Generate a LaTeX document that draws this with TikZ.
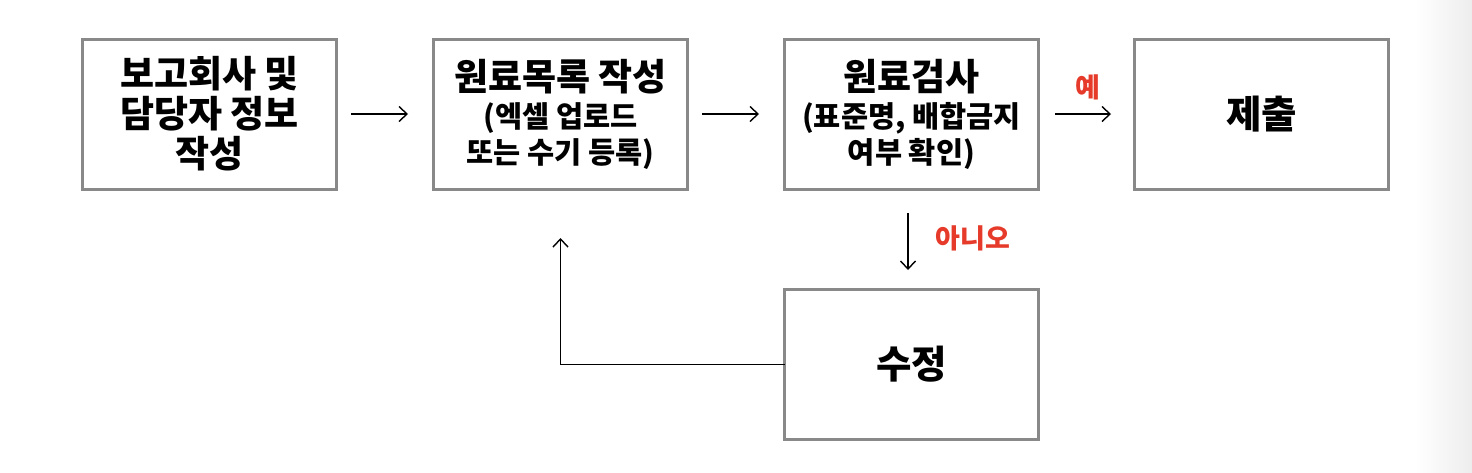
\documentclass[tikz,border=0pt]{standalone}
\usepackage{fontspec}
\setmainfont{Noto Sans CJK KR}
\usetikzlibrary{arrows.meta}
\definecolor{boxgray}{HTML}{898989}
\definecolor{labred}{HTML}{E63B2B}
\begin{document}
\begin{tikzpicture}[x=1pt,y=-1pt,
  stepbox/.style={draw=boxgray,line width=3pt,rectangle,outer sep=0pt,inner sep=0pt,
    minimum width=254pt,minimum height=150pt,align=center},
  bigtxt/.style={font=\bfseries\fontsize{37}{40}\selectfont},
  subtxt/.style={font=\bfseries\fontsize{29.5}{36}\selectfont},
  arr/.style={line width=1.4pt,-{Straight Barb[length=8pt,width=15pt,line width=1.4pt]}},
  lab/.style={text=labred,font=\bfseries\fontsize{27}{30}\selectfont,inner sep=0pt}]
\useasboundingbox (0,0) rectangle (1472,472);
\fill[white] (0,0) rectangle (1472,472);
\shade[left color=white,right color=black!7] (1415,0) rectangle (1472,472);
\node[stepbox,bigtxt] (b1) at (209.5,114) {보고회사 및\\ 담당자 정보\\ 작성};
\node[stepbox,subtxt] (b2) at (560.5,114) {{\fontsize{37}{40}\selectfont 원료목록 작성}\\[1pt] (엑셀 업로드\\ 또는 수기 등록)};
\node[stepbox,subtxt] (b3) at (911.5,114) {{\fontsize{37}{40}\selectfont 원료검사}\\[1pt] (표준명, 배합금지\\ 여부 확인)};
\node[stepbox,font=\bfseries\fontsize{38.5}{40}\selectfont] (b4) at (1261.5,114) {제출};
\node[stepbox,font=\bfseries\fontsize{38.5}{40}\selectfont] (b5) at (911.5,364.5) {수정};
\node[lab] (yes) at (1088,87) {예};
\node[lab] (no) at (973,238) {아니오};
\draw[arr] ([xshift=14.5pt]b1.east) -- ([xshift=-25.5pt]b2.west);
\draw[arr] ([xshift=14.5pt]b2.east) -- ([xshift=-25.5pt]b3.west);
\draw[arr] ([xshift=16.5pt]b3.east) -- ([xshift=-23.5pt]b4.west);
\draw[arr] ([xshift=-3.5pt,yshift=-24pt]b3.south) -- ([xshift=-3.5pt,yshift=19.5pt]b5.north);
\draw[arr] (b5.west) -| ([yshift=-49pt]b2.south);
\end{tikzpicture}
\end{document}
